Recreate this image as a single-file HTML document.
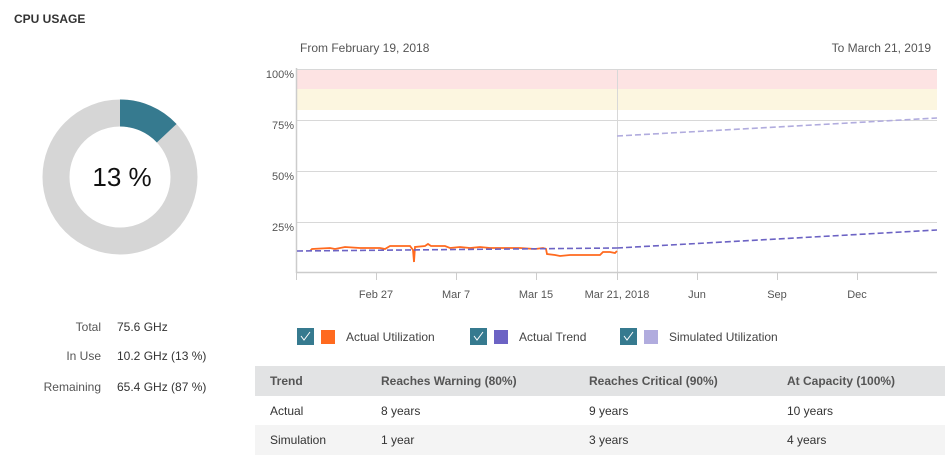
<!DOCTYPE html>
<html><head><style>
body{margin:0;width:947px;height:464px;background:#fff;font-family:"Liberation Sans",sans-serif;color:#333;position:relative;overflow:hidden}
.a{position:absolute;white-space:nowrap}
.s{font-size:12px;color:#555}
</style></head><body>
<div class="a" style="left:14px;top:12px;font-size:12px;font-weight:bold;color:#333">CPU USAGE</div>
<svg class="a" style="left:0;top:0" width="947" height="464">
<circle cx="120" cy="177" r="64" fill="none" stroke="#d6d6d6" stroke-width="27"/>
<circle cx="120" cy="177" r="64" fill="none" stroke="#367a8f" stroke-width="27" stroke-dasharray="52.3 400" transform="rotate(-90 120 177)"/>
<text x="122" y="186" font-size="26" text-anchor="middle" fill="#111" font-family="Liberation Sans">13 %</text>
<rect x="297" y="69" width="640" height="20" fill="#fde3e3"/>
<rect x="297" y="89" width="640" height="21" fill="#fcf6e0"/>
<g stroke="#d8d8d8" stroke-width="1">
<line x1="297" y1="120.5" x2="937" y2="120.5"/><line x1="297" y1="171.5" x2="937" y2="171.5"/><line x1="297" y1="222.5" x2="937" y2="222.5"/><line x1="297" y1="69.5" x2="937" y2="69.5"/>
<line x1="617.5" y1="69" x2="617.5" y2="273"/>
</g>
<line x1="296.5" y1="68" x2="296.5" y2="273" stroke="#ccc" stroke-width="1.5"/>
<line x1="296" y1="272.5" x2="937" y2="272.5" stroke="#ccc" stroke-width="1.5"/>
<g stroke="#ccc"><line x1="296.5" y1="273" x2="296.5" y2="280"/><line x1="376.5" y1="273" x2="376.5" y2="280"/><line x1="456.5" y1="273" x2="456.5" y2="280"/><line x1="536.5" y1="273" x2="536.5" y2="280"/><line x1="617.5" y1="273" x2="617.5" y2="280"/><line x1="697.5" y1="273" x2="697.5" y2="280"/><line x1="777.5" y1="273" x2="777.5" y2="280"/><line x1="857.5" y1="273" x2="857.5" y2="280"/></g>
<g font-size="11" fill="#555" font-family="Liberation Sans" text-anchor="end">
<text x="294" y="78">100%</text><text x="294" y="129">75%</text><text x="294" y="180">50%</text><text x="294" y="231">25%</text></g>
<g font-size="11" fill="#555" font-family="Liberation Sans" text-anchor="middle">
<text x="376" y="298">Feb 27</text><text x="456" y="298">Mar 7</text><text x="536" y="298">Mar 15</text><text x="617" y="298">Mar 21, 2018</text><text x="697" y="298">Jun</text><text x="777" y="298">Sep</text><text x="857" y="298">Dec</text></g>
<polyline fill="none" stroke="#ff6a1f" stroke-width="1.8" points="310,251 312,249 330,248 335,249 345,247 360,248 380,248 385,249 390,246 410,246 413,250 414,262 415,247 425,246 428,244 431,246 445,246 450,248 460,247 470,248 480,247 490,248 500,248 510,248 520,248 535,249 543,248 546,249 547,254 555,255 560,256 570,255 580,255 590,255 600,255 603,252 610,252 615,253 617,251"/>
<line x1="297" y1="251" x2="617" y2="248" stroke="#6c63c4" stroke-width="1.6" stroke-dasharray="6 3"/>
<line x1="617" y1="248" x2="937" y2="230" stroke="#6c63c4" stroke-width="1.6" stroke-dasharray="6 3"/>
<line x1="617" y1="136" x2="937" y2="118" stroke="#b1acde" stroke-width="1.6" stroke-dasharray="6 3"/>
<g font-family="Liberation Sans" font-size="12" fill="#444">
<rect x="297" y="328" width="17" height="17" fill="#367a8f"/><path d="M301 336 l3 4 l6 -8" stroke="#fff" fill="none"/>
<rect x="321" y="330" width="14" height="14" fill="#ff6a1f"/><text x="346" y="341">Actual Utilization</text>
<rect x="470" y="328" width="17" height="17" fill="#367a8f"/><path d="M474 336 l3 4 l6 -8" stroke="#fff" fill="none"/>
<rect x="494" y="330" width="14" height="14" fill="#6c63c4"/><text x="519" y="341">Actual Trend</text>
<rect x="620" y="328" width="17" height="17" fill="#367a8f"/><path d="M624 336 l3 4 l6 -8" stroke="#fff" fill="none"/>
<rect x="644" y="330" width="14" height="14" fill="#b1acde"/><text x="669" y="341">Simulated Utilization</text>
</g>
<rect x="255" y="366" width="690" height="30" fill="#e2e3e4"/>
<rect x="255" y="425" width="690" height="30" fill="#f4f4f4"/>
<g font-family="Liberation Sans" font-size="12" fill="#555" font-weight="bold">
<text x="270" y="385">Trend</text><text x="381" y="385">Reaches Warning (80%)</text><text x="589" y="385">Reaches Critical (90%)</text><text x="787" y="385">At Capacity (100%)</text></g>
<g font-family="Liberation Sans" font-size="12" fill="#333">
<text x="270" y="415">Actual</text><text x="381" y="415">8 years</text><text x="589" y="415">9 years</text><text x="787" y="415">10 years</text>
<text x="270" y="444">Simulation</text><text x="381" y="444">1 year</text><text x="589" y="444">3 years</text><text x="787" y="444">4 years</text></g>
<g font-family="Liberation Sans" font-size="12" fill="#555">
<text x="300" y="52">From February 19, 2018</text><text x="931" y="52" text-anchor="end">To March 21, 2019</text>
<text x="101" y="331" text-anchor="end">Total</text><text x="117" y="331" fill="#333">75.6 GHz</text>
<text x="101" y="360" text-anchor="end">In Use</text><text x="117" y="360" fill="#333">10.2 GHz (13 %)</text>
<text x="101" y="391" text-anchor="end">Remaining</text><text x="117" y="391" fill="#333">65.4 GHz (87 %)</text></g>
</svg>
</body></html>
